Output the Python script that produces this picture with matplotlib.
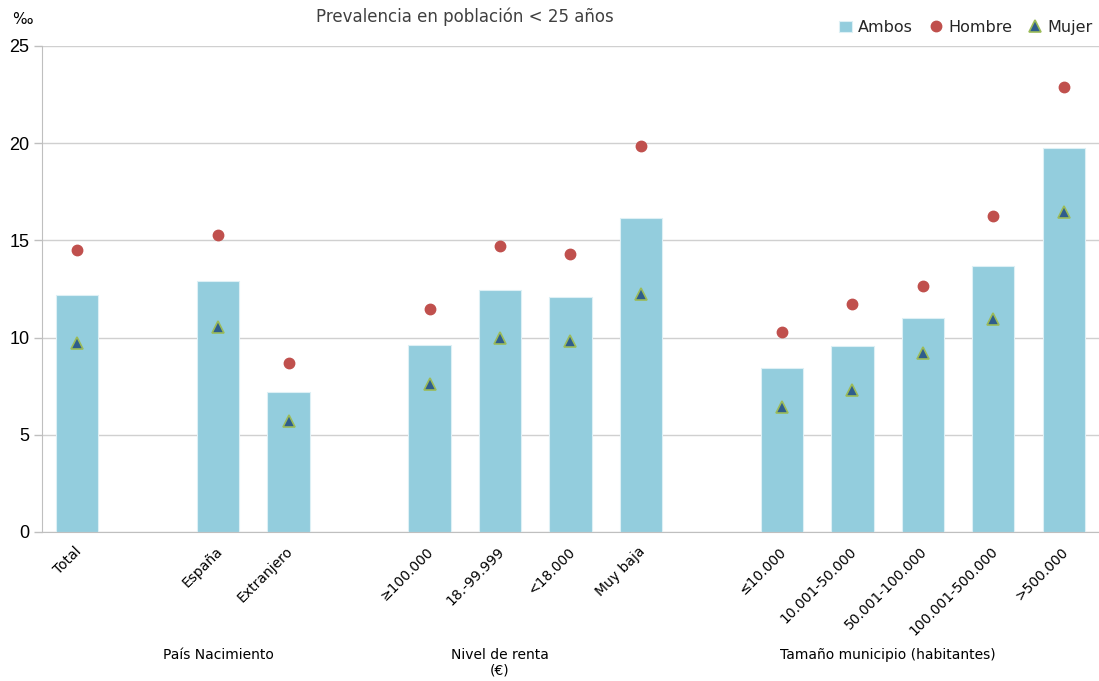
import matplotlib
matplotlib.use("Agg")
import matplotlib.pyplot as plt
import matplotlib.transforms as mtransforms
import numpy as np

# ---- data ----
categories = ["Total", "", "España", "Extranjero", "", "≥100.000", "18.-99.999", "<18.000",
              "Muy baja", "", "≤10.000", "10.001-50.000", "50.001-100.000", "100.001-500.000", ">500.000"]
ambos = [12.2, None, 12.9, 7.2, None, 9.62, 12.45, 12.08, 16.13, None, 8.42, 9.57, 11.0, 13.66, 19.73]
hombre = [14.48, None, 15.28, 8.7, None, 11.47, 14.72, 14.3, 19.86, None, 10.28, 11.72, 12.67, 16.25, 22.87]
mujer = [9.74, None, 10.55, 5.72, None, 7.6, 9.98, 9.8, 12.22, None, 6.44, 7.32, 9.2, 10.95, 16.46]
group_labels = ["País Nacimiento", "Nivel de renta\n(€)", "Tamaño municipio (habitantes)"]
group_pos = [2.0, 6.0, 11.5]

yticks = [0, 5, 10, 15, 20, 25]

# ---- figure ----
fig = plt.figure(figsize=(10.99, 6.81), dpi=100)
ax = fig.add_axes([0.0382, 0.2188, 0.9618, 0.7137])

x = np.arange(len(categories))
bx = [xi for xi, v in zip(x, ambos) if v is not None]
bv = [v for v in ambos if v is not None]
hv = [v for v in hombre if v is not None]
mv = [v for v in mujer if v is not None]

bar_color = "#93CDDD"
h1 = ax.bar(bx, bv, width=0.6, color=bar_color, edgecolor="#DDF0F5", linewidth=0.8, zorder=2, label="Ambos")
h2, = ax.plot(bx, hv, linestyle="none", marker="o", markersize=7.5, color="#C0504D",
              markeredgecolor="#C0504D", zorder=3, label="Hombre")
h3, = ax.plot(bx, mv, linestyle="none", marker="^", markersize=8, color="#2F5D8C",
              markeredgecolor="#9BBB59", markeredgewidth=1.2, zorder=4, label="Mujer")

ax.set_xlim(-0.5, len(categories) - 0.5)
ax.set_ylim(0, 25)
ax.set_yticks(yticks)
ax.yaxis.grid(True, color="#D0D0D0", linewidth=1.0)
ax.set_axisbelow(True)
for s in ["top", "right"]:
    ax.spines[s].set_visible(False)
ax.spines["left"].set_color("#BFBFBF")
ax.spines["bottom"].set_color("#BFBFBF")
ax.tick_params(axis="y", colors="#BFBFBF", length=6, width=1.0, labelcolor="black",
               labelsize=13, pad=3)
for lab in ax.get_yticklabels():
    lab.set_fontfamily("Liberation Sans")

ax.set_xticks(x)
ax.set_xticklabels(categories, rotation=45, ha="right", rotation_mode="anchor",
                   fontsize=10, color="black")
ax.tick_params(axis="x", length=0, pad=9)
offset = mtransforms.ScaledTranslation(-2 / 72, 0, fig.dpi_scale_trans)
for lab in ax.get_xticklabels():
    lab.set_transform(lab.get_transform() + offset)

# group labels
trans = mtransforms.blended_transform_factory(ax.transData, fig.transFigure)
for gl, gp in zip(group_labels, group_pos):
    ax.text(gp, 1 - 648 / 681, gl, transform=trans, ha="center", va="top",
            fontsize=10, color="black", linespacing=1.1)

# title and unit
fig.text(465 / 1099, 1 - 17 / 681, "Prevalencia en población < 25 años", ha="center",
         va="center", fontsize=12, color="#404040")
fig.text(22 / 1099, 1 - 19 / 681, "‰", ha="center", va="center", fontsize=11, color="black")

leg = fig.legend(handles=[h1, h2, h3], labels=["Ambos", "Hombre", "Mujer"],
                 loc="upper right", bbox_to_anchor=(1.003, 0.985), ncol=3, frameon=False,
                 fontsize=11.5, handlelength=0.8, handletextpad=0.4, columnspacing=1.0,
                 borderaxespad=0.2)
for t in leg.get_texts():
    t.set_color("#262626")

fig.savefig("out.png", dpi=100)
